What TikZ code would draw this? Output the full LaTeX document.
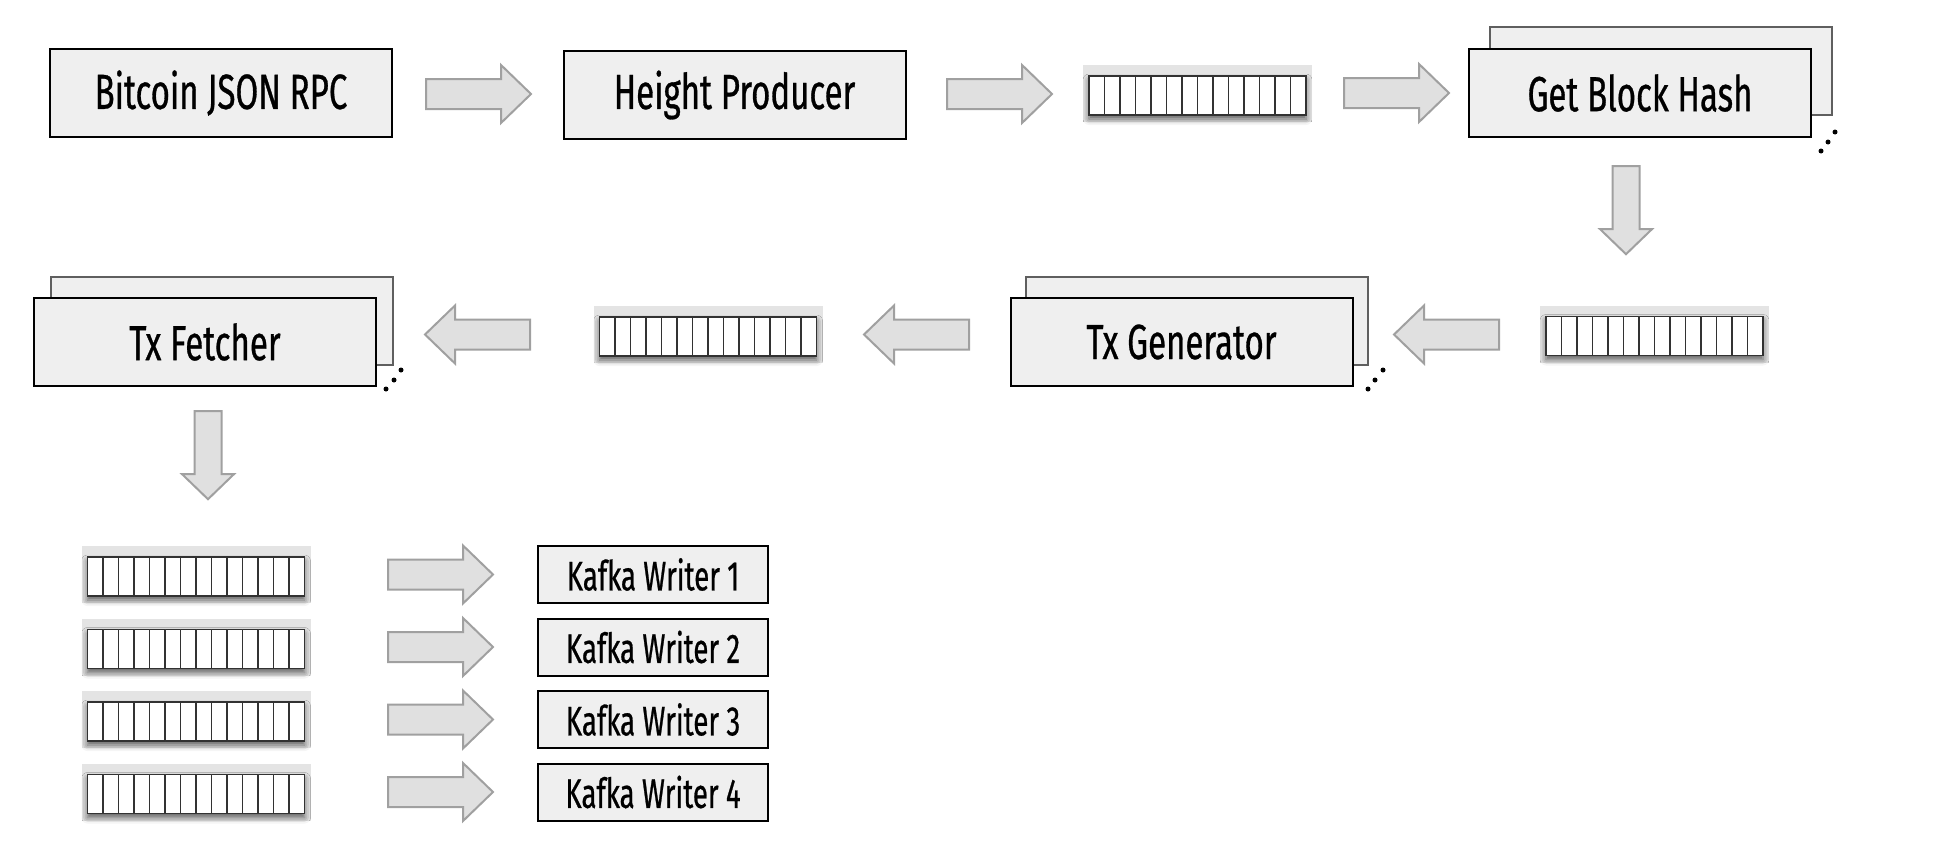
\documentclass[tikz,border=0pt]{standalone}
\usepackage{fontspec}
\setmainfont[FakeStretch=0.67, FakeBold=0.6]{Fira Sans}
\usetikzlibrary{shadows.blur}

\tikzset{every picture/.style={line width=0.75pt}}
\tikzset{
  procbox/.style={draw=black, line width=1.5pt, fill={rgb, 255:red, 239; green, 239; blue, 239}, minimum width=256.5pt, minimum height=66pt, inner sep=0pt, font=\fontsize{37}{42}\selectfont},
  backbox/.style={procbox, draw={rgb, 255:red, 95; green, 95; blue, 95}},
  kafkabox/.style={procbox, minimum width=172.5pt, minimum height=42.75pt, font=\fontsize{31}{36}\selectfont},
  queuebg/.style={fill={rgb, 255:red, 228; green, 228; blue, 228}, minimum width=171.75pt, minimum height=42.75pt, inner sep=0pt},
  cell/.style={draw={rgb, 255:red, 50; green, 50; blue, 50}, line width=1pt, fill=white},
  arrowshape/.style={draw={rgb, 255:red, 160; green, 160; blue, 160}, fill={rgb, 255:red, 224; green, 224; blue, 224}, line width=1.5pt},
  pics/blockarrow/.style={code={
    \draw[arrowshape] (0,-15) -- (75,-15) -- (75,-29) -- (105,0) -- (75,29) -- (75,15) -- (0,15) -- cycle;
  }},
  pics/cells/.style={code={
    \draw[cell, blur shadow={shadow xshift=0pt, shadow yshift=-3pt, shadow blur radius=4.5pt, shadow opacity=60}] (-108.5,-21.5) rectangle (108.5,17.5);
    \foreach \i in {1,...,13} \draw[cell] (-108.5+\i*15.5,-21.5) -- (-108.5+\i*15.5,17.5);
  }},
}

\begin{document}
\begin{tikzpicture}[x=0.75pt,y=0.75pt,yscale=-1,xscale=1]
\useasboundingbox (0,0) rectangle (1944,854);

%Shape: Rectangle
\node[procbox] (btc) at (221,93) {Bitcoin JSON RPC};
\node[procbox] (hp) at (734.5,95) {Height Producer};
%Shape: Rectangle (stacked)
\node[backbox] (gbhb) at (1661,71) {};
\node[procbox] (gbh) at (1640,93) {Get Block Hash};
\node[backbox] (txgb) at (1196.5,321) {};
\node[procbox] (txg) at (1181.5,342) {Tx Generator};
\node[backbox] (txfb) at (222,321) {};
\node[procbox] (txf) at (205,342) {Tx Fetcher};

%Shape: Queue
\node[queuebg] (q1) at (1197.5,93.5) {};
\pic at (q1) {cells};
\node[queuebg] (q2) at (1654.5,334) {};
\pic at (q2) {cells};
\node[queuebg] (q3) at (708,334.5) {};
\pic at (q3) {cells};
\foreach \k/\y in {4/574.5,5/647,6/719.5,7/792}{
  \node[queuebg] (q\k) at (196,\y) {};
  \pic at (q\k) {cells};
}

%Shape: Right Arrow
\pic (a1) at (426,94) {blockarrow};
\pic (a2) at (947,94) {blockarrow};
\pic (a3) at (1344,93) {blockarrow};
%Shape: Down Arrow
\pic[rotate=-90, xscale=0.84, yscale=0.9] (d1) at (1626,166) {blockarrow};
\pic[rotate=-90, xscale=0.84, yscale=0.9] (d2) at (208,411) {blockarrow};
%Shape: Left Arrow
\pic[rotate=180] (l3) at (1499,334.5) {blockarrow};
\pic[rotate=180] (l2) at (969,334.5) {blockarrow};
\pic[rotate=180] (l1) at (530,334.5) {blockarrow};

%Shape: Kafka writers
\foreach \k/\y in {1/574.5,2/647,3/719.5,4/792}{
  \pic (w\k) at (388,\y) {blockarrow};
  \node[kafkabox] (kw\k) at (653,\y) {Kafka Writer \k};
}

%Shape: Dots
\fill (1821,151) circle (2.5) (1828,142) circle (2.5) (1835,132) circle (2.5);
\fill (1368,389) circle (2.5) (1375,380) circle (2.5) (1383,370) circle (2.5);
\fill (386,389) circle (2.5) (394,380) circle (2.5) (401,370) circle (2.5);

\end{tikzpicture}
\end{document}
